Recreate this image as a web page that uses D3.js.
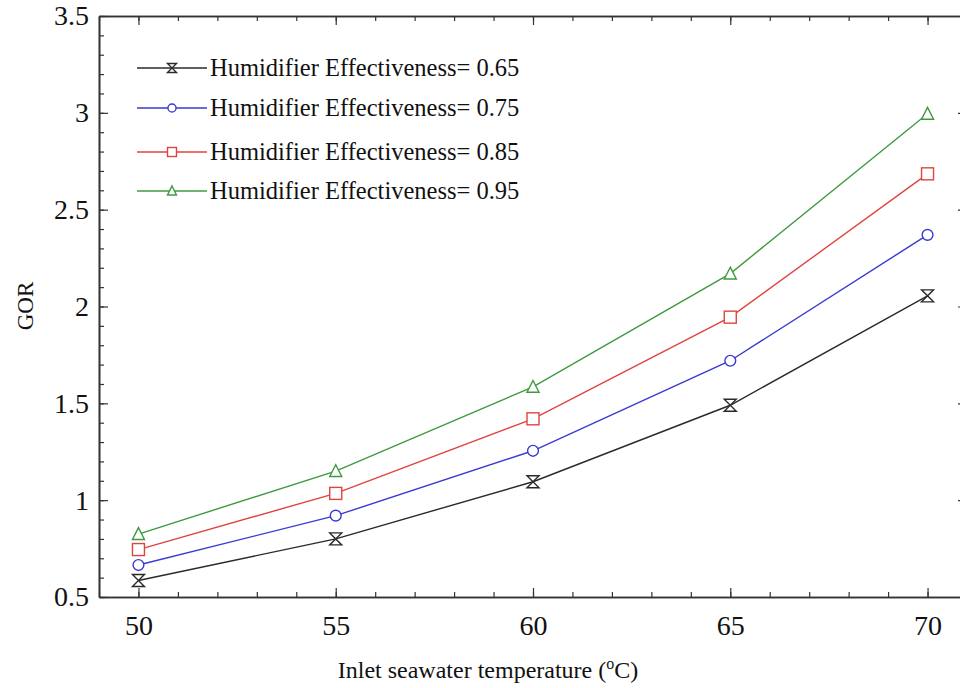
<!DOCTYPE html>
<html>
<head>
<meta charset="utf-8">
<script src="https://cdn.jsdelivr.net/npm/d3@7"></script>
<style>
  body { margin: 0; background: #fff; }
  svg { display: block; font-family: "Liberation Serif", "DejaVu Serif", serif; }
</style>
</head>
<body>
<svg width="960" height="688"></svg>
<script>
// data
const temps = [50, 55, 60, 65, 70];
const eff65 = [0.585, 0.80, 1.095, 1.49, 2.055];
const eff75 = [0.665, 0.92, 1.255, 1.72, 2.37];
const eff85 = [0.745, 1.035, 1.42, 1.945, 2.685];
const eff95 = [0.825, 1.15, 1.585, 2.17, 2.995];
const seriesNames = ["Humidifier Effectiveness= 0.65", "Humidifier Effectiveness= 0.75",
                     "Humidifier Effectiveness= 0.85", "Humidifier Effectiveness= 0.95"];
const xTicks = [50, 55, 60, 65, 70];
const yTicks = [0.5, 1, 1.5, 2, 2.5, 3, 3.5];

const colors = ["#2a2a2a", "#3a3ad0", "#e0443f", "#3f9a3f"];
const shapes = ["hourglass", "circle", "square", "triangle"];
const allSeries = [eff65, eff75, eff85, eff95];

const margin = {top: 16, left: 99};
const plotW = 868, plotH = 581;

const svg = d3.select("svg");
const chart = svg.append("g").attr("transform", `translate(${margin.left}, ${margin.top})`);

const xScale = d3.scaleLinear().domain([49, 71]).range([0, plotW]);
const yScale = d3.scaleLinear().domain([0.5, 3.5]).range([plotH, 0]);

const axisColor = "#333";

// minor + major ticks, pointing inward
function styleAxis(g) {
  g.attr("font-family", null).attr("font-size", null);
  g.select(".domain").attr("stroke", axisColor).attr("stroke-width", 1.6);
  g.selectAll(".tick line").attr("stroke", axisColor).attr("stroke-width", 1.2);
  g.selectAll("text")
    .style("font-family", "'Liberation Serif', serif")
    .style("font-size", "28px")
    .attr("fill", "#111");
}

const xMinor = d3.range(49, 72, 1);
const yMinor = d3.range(5, 36, 1).map(v => v / 10);

// bottom
chart.append("g").attr("transform", `translate(0, ${plotH})`)
  .call(d3.axisBottom(xScale).tickValues(xMinor).tickSize(-5).tickFormat("").tickSizeOuter(0))
  .call(styleAxis);
chart.append("g").attr("transform", `translate(0, ${plotH})`)
  .call(d3.axisBottom(xScale).tickValues(xTicks).tickSize(-9).tickPadding(18).tickSizeOuter(0))
  .call(styleAxis);

// top
chart.append("g")
  .call(d3.axisTop(xScale).tickValues(xMinor).tickSize(-5).tickFormat("").tickSizeOuter(0))
  .call(styleAxis);
chart.append("g")
  .call(d3.axisTop(xScale).tickValues(xTicks).tickSize(-9).tickFormat("").tickSizeOuter(0))
  .call(styleAxis);

// left
chart.append("g")
  .call(d3.axisLeft(yScale).tickValues(yMinor).tickSize(-5).tickFormat("").tickSizeOuter(0))
  .call(styleAxis);
chart.append("g")
  .call(d3.axisLeft(yScale).tickValues(yTicks).tickSize(-9).tickPadding(10).tickFormat(d => d).tickSizeOuter(0))
  .call(styleAxis);

// right (mostly off-canvas)
chart.append("g").attr("transform", `translate(${plotW}, 0)`)
  .call(d3.axisRight(yScale).tickValues(yMinor).tickSize(-5).tickFormat("").tickSizeOuter(0))
  .call(styleAxis);
chart.append("g").attr("transform", `translate(${plotW}, 0)`)
  .call(d3.axisRight(yScale).tickValues(yTicks).tickSize(-9).tickFormat("").tickSizeOuter(0))
  .call(styleAxis);

// marker drawing
function drawMarker(g, shape, color, s) {
  if (shape === "circle") {
    g.append("circle").attr("r", s * 0.45).attr("fill", "#fff").attr("stroke", color).attr("stroke-width", 1.4);
  } else if (shape === "square") {
    g.append("rect").attr("x", -s / 2).attr("y", -s / 2).attr("width", s).attr("height", s)
      .attr("fill", "#fff").attr("stroke", color).attr("stroke-width", 1.4);
  } else if (shape === "triangle") {
    const h = s * 0.9;
    g.append("path").attr("d", `M0,${-h / 2 - 1}L${s / 2},${h / 2}L${-s / 2},${h / 2}Z`)
      .attr("fill", "#fff").attr("stroke", color).attr("stroke-width", 1.4);
  } else {
    const w = s / 2, h = s / 2;
    g.append("path").attr("d", `M${-w},${-h}L${w},${-h}L${-w},${h}L${w},${h}Z`)
      .attr("fill", "#fff").attr("stroke", color).attr("stroke-width", 1.4);
  }
}

const line = d3.line().x((d, i) => xScale(temps[i])).y(d => yScale(d));

allSeries.forEach((vals, k) => {
  chart.append("path").datum(vals)
    .attr("d", line)
    .attr("fill", "none")
    .attr("stroke", colors[k])
    .attr("stroke-width", 1.4);
  chart.selectAll(null).data(vals).enter().append("g")
    .attr("transform", (d, i) => `translate(${xScale(temps[i])}, ${yScale(d)})`)
    .each(function () { drawMarker(d3.select(this), shapes[k], colors[k], 12); });
});

// legend
const legendY = [68, 108, 152, 191];
const legend = svg.append("g");
seriesNames.forEach((name, k) => {
  const row = legend.append("g").attr("transform", `translate(137, ${legendY[k]})`);
  row.append("line").attr("x1", 0).attr("x2", 70).attr("stroke", colors[k]).attr("stroke-width", 1.3);
  const m = row.append("g").attr("transform", "translate(35, 0)");
  drawMarker(m, shapes[k], colors[k], 9);
  row.append("text").attr("x", 73).attr("y", 8).attr("font-size", 24.5).attr("fill", "#111").text(name);
});

// axis titles
const xTitle = svg.append("text")
  .attr("x", 488).attr("y", 678)
  .attr("text-anchor", "middle")
  .attr("font-size", 24).attr("fill", "#111");
xTitle.append("tspan").text("Inlet seawater temperature (");
xTitle.append("tspan").attr("font-size", 16).attr("dy", -9).text("o");
xTitle.append("tspan").attr("dy", 9).text("C)");

svg.append("text")
  .attr("transform", "translate(33, 306) rotate(-90)")
  .attr("text-anchor", "middle")
  .attr("font-size", 23).attr("fill", "#111")
  .text("GOR");
</script>
</body>
</html>
